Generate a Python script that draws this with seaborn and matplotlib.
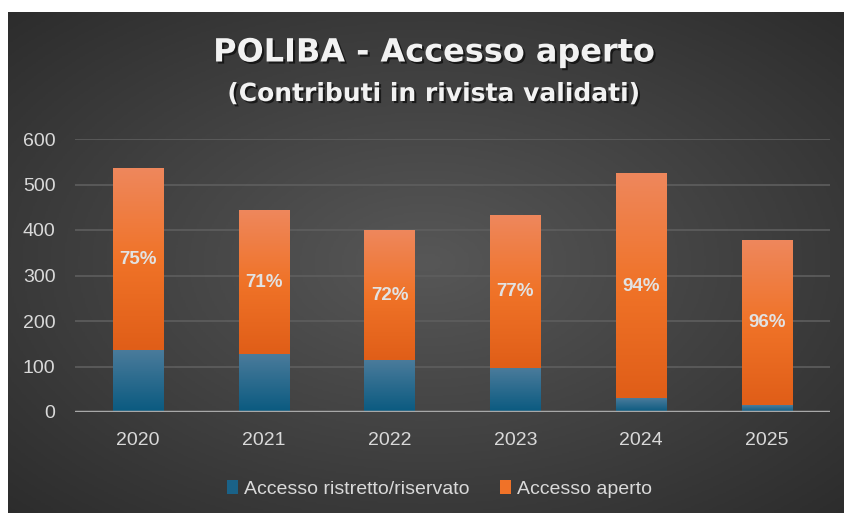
import numpy as np
import pandas as pd
import matplotlib
matplotlib.use("Agg")
import matplotlib.pyplot as plt
import matplotlib.patheffects as pe
from matplotlib.colors import LinearSegmentedColormap
from matplotlib.patches import Patch
import seaborn as sns

# data
years = ["2020", "2021", "2022", "2023", "2024", "2025"]
restricted = [135, 127, 113, 96, 30, 15]
open_access = [402, 316, 287, 336, 493, 362]
pct_labels = ["75%", "71%", "72%", "77%", "94%", "96%"]

df = pd.DataFrame({"Anno": years, "Ristretto": restricted, "Aperto": open_access})
df["Totale"] = df["Ristretto"] + df["Aperto"]

sns.set_theme(style="dark")
plt.rcParams["font.family"] = ["Liberation Sans", "DejaVu Sans"]

fig = plt.figure(figsize=(8.45, 5.13), dpi=100)
fig.patch.set_facecolor("white")

# radial gradient background
bg = fig.add_axes([8 / 845, 0, 1 - 8 / 845, 1 - 12 / 513])
yy, xx = np.mgrid[0:1:300j, 0:1:500j]
r = np.sqrt(((xx - 0.5) / 0.75) ** 2 + ((yy - 0.5) / 0.75) ** 2)
bg_cmap = LinearSegmentedColormap.from_list("bg", ["#575757", "#2a2a2a"])
bg.imshow(np.clip(r, 0, 1), cmap=bg_cmap, aspect="auto", extent=[0, 1, 0, 1], vmin=0, vmax=1)
bg.set_axis_off()

ax = fig.add_axes([75 / 845, 1 - 412 / 513, (830 - 75) / 845, (412 - 139) / 513])
ax.set_facecolor("none")

sns.barplot(data=df, x="Anno", y="Totale", color="#f07228", width=0.4, ax=ax,
            zorder=3, linewidth=0, edgecolor="none")
sns.barplot(data=df, x="Anno", y="Ristretto", color="#1a6288", width=0.4, ax=ax,
            zorder=3, linewidth=0, edgecolor="none")

orange_cmap = LinearSegmentedColormap.from_list("or", ["#e05e18", "#f07328", "#ee875c"])
blue_cmap = LinearSegmentedColormap.from_list("bl", ["#0a5a80", "#4a7b9b"])
grad = np.linspace(0, 1, 100).reshape(-1, 1)

n = len(years)
orange_bars = ax.patches[:n]
blue_bars = ax.patches[n:2 * n]
for ob, bb, lab in zip(orange_bars, blue_bars, pct_labels):
    x0, w = ob.get_x(), ob.get_width()
    top, low = ob.get_height(), bb.get_height()
    ax.imshow(grad, cmap=orange_cmap, origin="lower", aspect="auto",
              extent=[x0, x0 + w, low, top], zorder=4)
    ax.imshow(grad, cmap=blue_cmap, origin="lower", aspect="auto",
              extent=[x0, x0 + w, 0, low], zorder=4)
    ax.text(x0 + w / 2, (low + top) / 2, lab, ha="center", va="center",
            color="#e2e2e2", fontsize=13.5, fontweight="bold", zorder=5)

ax.set_xlim(-0.5, n - 0.5)
ax.set_ylim(0, 600)
ax.set_yticks(range(0, 601, 100))
ax.grid(axis="y", color="#5e5e5e", linewidth=1.2, zorder=0)
ax.grid(axis="x", visible=False)
ax.axhline(0, color="#a8a8a8", linewidth=2.5, zorder=6)
for s in ax.spines.values():
    s.set_visible(False)
ax.set_xlabel("")
ax.set_ylabel("")
ax.tick_params(axis="both", colors="#d9d9d9", labelsize=14, length=0)
ax.tick_params(axis="x", pad=14.5)
ax.tick_params(axis="y", pad=14)

shadow = [pe.withSimplePatchShadow(offset=(1.5, -1.5), shadow_rgbFace="black", alpha=0.6)]
fig.text(0.514, 1 - 53 / 513, "POLIBA - Accesso aperto", ha="center", va="center",
         color="#f2f2f2", fontsize=23, fontweight="bold", family="DejaVu Sans",
         path_effects=shadow)
fig.text(0.514, 1 - 94 / 513, "(Contributi in rivista validati)", ha="center", va="center",
         color="#f2f2f2", fontsize=18, fontweight="bold", family="DejaVu Sans",
         path_effects=shadow)

handles = [Patch(facecolor="#1a6288", edgecolor="none", label="Accesso ristretto/riservato"),
           Patch(facecolor="#f07228", edgecolor="none", label="Accesso aperto")]
leg = fig.legend(handles=handles, loc="center", bbox_to_anchor=(0.52, 1 - 489 / 513),
                 ncol=2, frameon=False, fontsize=14, handlelength=0.6, handleheight=0.7,
                 handletextpad=0.3, columnspacing=1.55)
for t in leg.get_texts():
    t.set_color("#d9d9d9")

fig.savefig("out.png", dpi=100)
